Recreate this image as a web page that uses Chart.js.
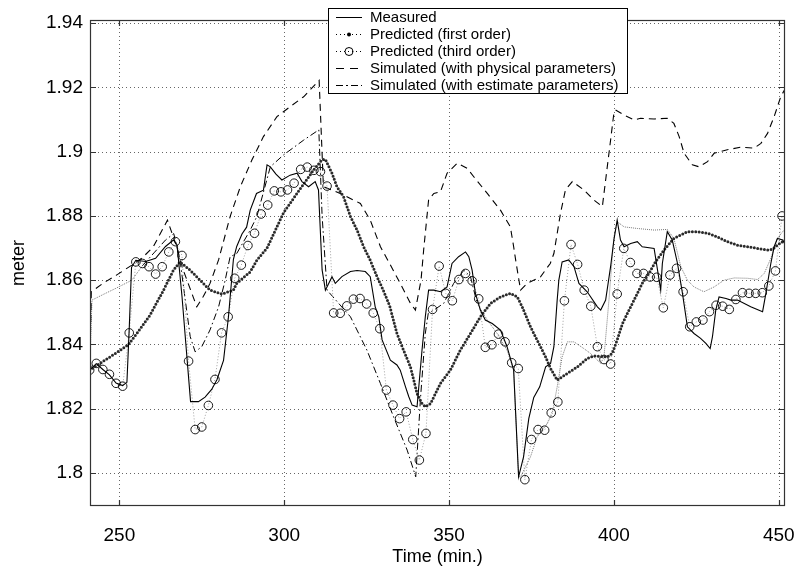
<!DOCTYPE html>
<html>
<head>
<meta charset="utf-8">
<script src="https://cdn.jsdelivr.net/npm/chart.js@4.4.1/dist/chart.umd.min.js"></script>
<style>
  html, body { margin: 0; padding: 0; background: #fff; }
  #wrap { width: 798px; height: 574px; position: relative; }
</style>
</head>
<body>
<div id="wrap"><canvas id="chart"></canvas></div>
<script>
// axis ticks
const xTicks = [250, 300, 350, 400, 450];
const yTicks = [1.8, 1.82, 1.84, 1.86, 1.88, 1.9, 1.92, 1.94];

const seriesNames = [
  "Measured",
  "Predicted (first order)",
  "Predicted (third order)",
  "Simulated (with physical parameters)",
  "Simulated (with estimate parameters)"
];

// [time (min.), level (meter)]
const measured = [
  [241,1.832],[243,1.834],[245,1.8322],[247,1.8305],[249,1.828],[251,1.8272],[252.3,1.8282],[253,1.845],
  [253.7,1.864],[255,1.8662],[258,1.8658],[261,1.8668],[264,1.8705],[266.4,1.8725],[267.5,1.871],[269,1.855],
  [270.5,1.836],[271.6,1.8222],[274,1.8222],[276,1.8236],[278,1.826],[279.6,1.829],[281.6,1.835],[283.1,1.8486],
  [284.6,1.8665],[285.6,1.8705],[287.2,1.8744],[288.6,1.8765],[289.7,1.8818],[291.6,1.887],[293.7,1.888],[294.8,1.8959],
  [295.8,1.8953],[297.5,1.893],[299.3,1.8912],[301.8,1.8927],[303.9,1.8933],[305.4,1.8907],[307.4,1.8891],[309.4,1.8907],
  [310.4,1.8881],[311.5,1.8632],[312.5,1.8569],[313.5,1.859],[314.5,1.8611],[315.5,1.859],[317.5,1.8611],[320.1,1.8627],
  [322.1,1.863],[324.6,1.8627],[326.1,1.8611],[327.6,1.8517],[328.7,1.8486],[329.7,1.8414],[332.2,1.8351],[334.2,1.8336],
  [335.2,1.832],[336.8,1.8268],[337.8,1.8237],[338.8,1.8211],[340.3,1.8206],[341.8,1.8382],[342.8,1.8486],[343.8,1.8569],
  [345.4,1.8569],[347.4,1.8564],[349.4,1.8579],[350.9,1.8652],[352.9,1.8673],[355,1.8688],[356,1.8673],[357,1.8631],
  [358,1.8559],[359.5,1.8507],[361,1.8476],[363.1,1.8465],[365.6,1.8445],[367.6,1.8393],[369.6,1.832],[371.1,1.7988],
  [372.6,1.805],[374.2,1.817],[375.7,1.8235],[377.5,1.8268],[379.3,1.833],[380.8,1.8341],[381.8,1.8393],[382.8,1.8538],
  [383.3,1.86],[384.3,1.8657],[386.3,1.8663],[387.9,1.8642],[389.4,1.859],[391.9,1.8564],[395,1.8517],[396,1.8507],
  [397.5,1.8538],[399,1.8642],[400,1.8725],[401,1.8787],[402,1.8725],[403.1,1.8704],[405.1,1.8714],[407.1,1.872],
  [408.6,1.8704],[412.2,1.8699],[414.2,1.8569],[414.7,1.8652],[416.2,1.8751],[417.7,1.8725],[419.3,1.8652],[420.8,1.8559],
  [422.3,1.8455],[424.3,1.8434],[426.3,1.8419],[427.9,1.8403],[429.2,1.8387],[429.9,1.8424],[430.9,1.8507],[431.9,1.8548],
  [434,1.8543],[435.5,1.8538],[437.5,1.8538],[441.5,1.8517],[445.1,1.8502],[446.1,1.8559],[447.6,1.8652],[448.6,1.8704],
  [449.6,1.873],[451.2,1.8725],[452,1.871]
];

const firstOrder = [
  [241,1.832],[244,1.834],[247,1.836],[250,1.838],[252.7,1.8399],[255.3,1.8434],[259.3,1.8491],[263.4,1.8569],
  [266.4,1.8631],[268.4,1.8657],[271.5,1.8631],[274.5,1.86],[277.5,1.8569],[281.1,1.8557],[284.6,1.8569],[285.6,1.859],
  [289.7,1.8626],[291.7,1.8662],[294.8,1.87],[299.8,1.881],[304.9,1.8885],[308.9,1.8943],[311.5,1.8975],[312.5,1.8976],
  [314.5,1.8933],[316,1.8891],[318,1.886],[320.1,1.8798],[322.1,1.8756],[324.1,1.8704],[326.1,1.8662],[328.2,1.861],
  [330,1.857],[332,1.852],[334.2,1.8434],[336.2,1.8382],[338.3,1.833],[339.3,1.8289],[340.3,1.8247],[341.8,1.8216],
  [342.8,1.8206],[344.4,1.8216],[347.4,1.8279],[350.4,1.832],[353.4,1.8382],[356.5,1.8434],[359.5,1.8486],[362.6,1.8528],
  [365.6,1.8548],[368.6,1.8559],[370.7,1.8548],[372.2,1.8517],[374.7,1.8455],[376.7,1.8414],[379.3,1.8361],[380.8,1.8325],
  [382.8,1.8289],[385.9,1.831],[388.9,1.833],[391.9,1.8356],[393.9,1.8364],[398,1.8361],[399.5,1.8372],[401,1.8414],
  [402.6,1.8465],[404.1,1.8497],[406.6,1.8548],[408.6,1.859],[410.6,1.8621],[412.5,1.8655],[415.2,1.8694],[418.2,1.873],
  [422.3,1.8751],[425.3,1.8751],[428.4,1.8746],[431.4,1.8735],[434.4,1.872],[437.5,1.8709],[440.5,1.8704],[443.6,1.8699],
  [446.6,1.8694],[448.1,1.8696],[449.6,1.8709],[451.2,1.872],[452,1.8725]
];

// circles, one every 2 min.
const thirdOrder = [
  [241,1.832],[243,1.8341],[245,1.8322],[247,1.8307],[249,1.8279],[251,1.827],[253,1.8436],[255,1.8657],
  [257,1.8652],[259,1.8642],[261,1.8619],[263,1.8642],[265,1.8688],[267,1.872],[269,1.8677],[271,1.8348],
  [273,1.8135],[275,1.8143],[277,1.821],[279,1.8291],[281,1.8436],[283,1.8486],[285,1.8606],[287,1.8647],
  [289,1.8708],[291,1.8746],[293,1.8806],[295,1.8834],[297,1.8878],[299,1.8875],[301,1.8881],[303,1.8902],
  [305,1.8945],[307,1.8952],[309,1.8942],[311,1.8938],[313,1.8893],[315,1.8498],[317,1.8497],[319,1.852],
  [321,1.8541],[323,1.8543],[325,1.8526],[327,1.8498],[329,1.8449],[331,1.8258],[333,1.8211],[335,1.8169],
  [337,1.819],[339,1.8104],[341,1.804],[343,1.8123],[345,1.8509],[347,1.8644],[349,1.8559],[351,1.8536],
  [353,1.8602],[355,1.8621],[357,1.8598],[359,1.8542],[361,1.8391],[363,1.8399],[365,1.8432],[367,1.8408],
  [369,1.8343],[371,1.8325],[373,1.7979],[375,1.8104],[377,1.8135],[379,1.8133],[381,1.8187],[383,1.8221],
  [385,1.8536],[387,1.8711],[389,1.8649],[391,1.8569],[393,1.8519],[395,1.8393],[397,1.8353],[399,1.8339],
  [401,1.8557],[403,1.8699],[405,1.8655],[407,1.8621],[409,1.8621],[411,1.861],[413,1.8609],[415,1.8514],
  [417,1.8616],[419,1.8637],[421,1.8564],[423,1.8455],[425,1.847],[427,1.8476],[429,1.8502],[431,1.8522],
  [433,1.8519],[435,1.8509],[437,1.854],[439,1.8561],[441,1.8559],[443,1.8559],[445,1.8561],[447,1.8582],
  [449,1.8629],[451,1.88]
];

const simPhysical = [
  [241,1.832],[241.5,1.8564],[245,1.859],[249,1.8615],[253.8,1.8647],[257,1.867],[260.3,1.8704],[264.6,1.8787],
  [267.4,1.8704],[269.4,1.8631],[273.5,1.8517],[275.5,1.855],[277.5,1.859],[280.1,1.8663],[283.6,1.8798],[286.7,1.8891],
  [290.2,1.8974],[293.7,1.9047],[297.8,1.9109],[301.8,1.914],[305.9,1.9171],[310.6,1.9222],[311.9,1.8891],[317,1.887],
  [323.1,1.8839],[326.1,1.8787],[329.2,1.8704],[331.7,1.8657],[335.2,1.859],[338.3,1.8528],[339.8,1.8507],[341.5,1.86],
  [342.3,1.8694],[343.8,1.885],[345.4,1.887],[347.4,1.8875],[349.4,1.8933],[352.5,1.8964],[355.5,1.8948],[357.5,1.8922],
  [361.6,1.887],[365.6,1.8818],[368.6,1.8766],[369.6,1.8704],[370.2,1.8663],[371.7,1.8569],[373.7,1.859],[377.7,1.861],
  [380.7,1.8652],[381.8,1.8683],[383.8,1.8808],[385.3,1.8881],[387.4,1.8907],[390.9,1.8881],[393.9,1.885],[396.5,1.8829],
  [397.5,1.8912],[399,1.9036],[400,1.912],[400.5,1.913],[403.1,1.9114],[406.1,1.9099],[408.1,1.9104],[412.2,1.9102],
  [416.2,1.9104],[418.2,1.9088],[419.8,1.9047],[421.3,1.8995],[423.8,1.8959],[425.8,1.8953],[428.4,1.8969],[430.4,1.8995],
  [434.4,1.9006],[438.5,1.9014],[442.5,1.9011],[444.6,1.9026],[446.6,1.9057],[448.6,1.9109],[450.6,1.9171],[452,1.9197]
];

const simEstimate = [
  [241,1.832],[241.7,1.8538],[245,1.8555],[249,1.8575],[253.8,1.86],[257,1.8645],[260.5,1.8685],[264,1.8725],
  [266.5,1.8745],[268.4,1.8663],[270,1.8538],[271.5,1.8424],[273,1.8377],[275,1.8393],[277.5,1.8445],[280.1,1.8517],
  [282.1,1.86],[283.6,1.8673],[285.6,1.8683],[289.7,1.8756],[291.7,1.8798],[295.8,1.8953],[299.8,1.899],[305.9,1.9036],
  [310.5,1.9068],[311.5,1.88],[313,1.8569],[320.1,1.8486],[325.1,1.8382],[329.2,1.8278],[333.2,1.8174],[337.3,1.8071],
  [339.9,1.7988],[341.3,1.8226],[342.8,1.8434],[343.7,1.8497],[345.4,1.8507],[348.4,1.8528],[351.4,1.859],[354.5,1.8631],
  [356.5,1.8611],[358.5,1.8528],[361.6,1.8476],[364.6,1.8434],[367.6,1.8382],[369.6,1.832],[371.1,1.7988],[371.7,1.7988],
  [374.7,1.805],[376.7,1.8112],[379.8,1.8154],[381.3,1.8185],[382.8,1.8268],[384.3,1.8361],[385.9,1.8408],[387.9,1.8408],
  [390.9,1.8387],[392.9,1.8372],[396,1.8341],[397,1.8361],[398.5,1.8538],[400,1.8735],[401,1.8782],[403.1,1.8766],
  [407.1,1.8761],[412.2,1.8756],[416.2,1.8758],[418.2,1.873],[420.3,1.8642],[422.3,1.86],[424.3,1.8579],[427.3,1.8564],
  [430.4,1.8579],[433.4,1.86],[436.5,1.8607],[440.5,1.8606],[443.6,1.8602],[445.6,1.8621],[447.6,1.8668],[449.6,1.873],
  [451.2,1.8751],[452,1.876]
];

const toXY = pts => pts.map(p => ({ x: p[0], y: p[1] }));
const FONT = "'Liberation Sans', Arial, sans-serif";

// the dash-dot pattern only survives where the line is not too wiggly
const estimateDashed = c => c.p0.parsed.x >= 254 && c.p0.parsed.x < 358;

// dotted grid, box and inward tick marks (matlab look)
const frame = {
  id: 'frame',
  beforeDatasetsDraw(chart) {
    const { ctx, chartArea: a, scales: { x, y } } = chart;
    ctx.save();
    ctx.strokeStyle = '#666';
    ctx.lineWidth = 1;
    ctx.setLineDash([1, 3]);
    ctx.beginPath();
    xTicks.forEach(v => {
      const px = Math.round(x.getPixelForValue(v)) + 0.5;
      ctx.moveTo(px, a.top); ctx.lineTo(px, a.bottom);
    });
    yTicks.forEach(v => {
      const py = Math.round(y.getPixelForValue(v)) + 0.5;
      ctx.moveTo(a.left, py); ctx.lineTo(a.right, py);
    });
    ctx.stroke();
    ctx.restore();
  },
  afterDatasetsDraw(chart) {
    const { ctx, chartArea: a, scales: { x, y } } = chart;
    const tl = 6;
    ctx.save();
    ctx.strokeStyle = '#333';
    ctx.lineWidth = 1.2;
    ctx.strokeRect(a.left + 0.5, a.top + 0.5, a.right - a.left - 1, a.bottom - a.top - 1);
    ctx.beginPath();
    xTicks.forEach(v => {
      const px = Math.round(x.getPixelForValue(v)) + 0.5;
      ctx.moveTo(px, a.bottom); ctx.lineTo(px, a.bottom - tl);
      ctx.moveTo(px, a.top); ctx.lineTo(px, a.top + tl);
    });
    yTicks.forEach(v => {
      const py = Math.round(y.getPixelForValue(v)) + 0.5;
      ctx.moveTo(a.left, py); ctx.lineTo(a.left + tl, py);
      ctx.moveTo(a.right, py); ctx.lineTo(a.right - tl, py);
    });
    ctx.stroke();
    ctx.restore();
  }
};

// boxed legend sitting over the top of the plot
const boxLegend = {
  id: 'boxLegend',
  afterDraw(chart) {
    const ctx = chart.ctx;
    const bx = 328, by = 8, bw = 299, bh = 85, row = 17;
    ctx.save();
    ctx.fillStyle = '#fff';
    ctx.fillRect(bx, by, bw, bh);
    ctx.strokeStyle = '#000';
    ctx.lineWidth = 1;
    ctx.strokeRect(bx + 0.5, by + 0.5, bw, bh);
    seriesNames.forEach((name, i) => {
      const cy = by + 9 + i * row;
      const x0 = 336, x1 = 362, xm = 349;
      ctx.save();
      ctx.strokeStyle = '#000';
      ctx.lineWidth = 1;
      if (i === 1 || i === 2) ctx.setLineDash([1, 3]);
      if (i === 3) ctx.setLineDash([8, 6]);
      if (i === 4) ctx.setLineDash([7, 3, 2, 3]);
      ctx.beginPath();
      ctx.moveTo(x0, cy + 0.5);
      ctx.lineTo(x1, cy + 0.5);
      ctx.stroke();
      ctx.setLineDash([]);
      if (i === 1) {
        ctx.fillStyle = '#000';
        ctx.beginPath(); ctx.arc(xm, cy + 0.5, 2, 0, Math.PI * 2); ctx.fill();
      }
      if (i === 2) {
        ctx.beginPath(); ctx.arc(xm, cy + 0.5, 4, 0, Math.PI * 2); ctx.stroke();
      }
      ctx.restore();
      ctx.fillStyle = '#000';
      ctx.font = '15px ' + FONT;
      ctx.textBaseline = 'middle';
      ctx.fillText(name, 370, cy + 1);
    });
    ctx.restore();
  }
};

new Chart(document.getElementById('chart'), {
  type: 'line',
  data: {
    datasets: [
      {
        label: seriesNames[0], data: toXY(measured),
        borderColor: '#000', borderWidth: 1.1, pointRadius: 0
      },
      {
        label: seriesNames[1], data: toXY(firstOrder),
        borderColor: '#2b2b2b', borderWidth: 3, borderDash: [0, 3.4],
        borderCapStyle: 'round', pointRadius: 0
      },
      {
        label: seriesNames[2], data: toXY(thirdOrder),
        borderColor: '#a0a0a0', borderWidth: 1, borderDash: [1, 2],
        pointRadius: 4.3, pointStyle: 'circle', pointBorderColor: '#000',
        pointBackgroundColor: 'rgba(0,0,0,0)', pointBorderWidth: 0.9
      },
      {
        label: seriesNames[3], data: toXY(simPhysical),
        borderColor: '#000', borderWidth: 1.1, borderDash: [7, 5], pointRadius: 0
      },
      {
        label: seriesNames[4], data: toXY(simEstimate),
        borderColor: '#000', borderWidth: 1, pointRadius: 0,
        segment: {
          borderDash: c => estimateDashed(c) ? [7, 3, 1.5, 3] : [1, 1],
          borderColor: c => estimateDashed(c) ? '#000' : '#777'
        }
      }
    ]
  },
  options: {
    responsive: true,
    maintainAspectRatio: false,
    animation: false,
    events: [],
    layout: { padding: { left: 8, right: 13, top: 20, bottom: 6 } },
    plugins: { legend: { display: false }, tooltip: { enabled: false } },
    scales: {
      x: {
        type: 'linear', min: 241.1, max: 451.9,
        afterBuildTicks: s => { s.ticks = xTicks.map(v => ({ value: v })); },
        afterFit: s => { s.height = 62; s.paddingLeft = 0; s.paddingRight = 0; },
        grid: { display: false, drawTicks: false },
        border: { display: false },
        ticks: { color: '#000', padding: 18, maxRotation: 0, font: { family: FONT, size: 19 } },
        title: { display: true, text: 'Time (min.)', color: '#000', padding: 0, font: { family: FONT, size: 18 } }
      },
      y: {
        type: 'linear', min: 1.7897, max: 1.941,
        afterBuildTicks: s => { s.ticks = yTicks.map(v => ({ value: v })); },
        afterFit: s => { s.width = 82; },
        grid: { display: false, drawTicks: false },
        border: { display: false },
        ticks: { color: '#000', padding: 7, font: { family: FONT, size: 19 },
                 callback: v => String(+v.toFixed(2)) },
        title: { display: true, text: 'meter', color: '#000', padding: 0, font: { family: FONT, size: 18 } }
      }
    }
  },
  plugins: [frame, boxLegend]
});
</script>
</body>
</html>
